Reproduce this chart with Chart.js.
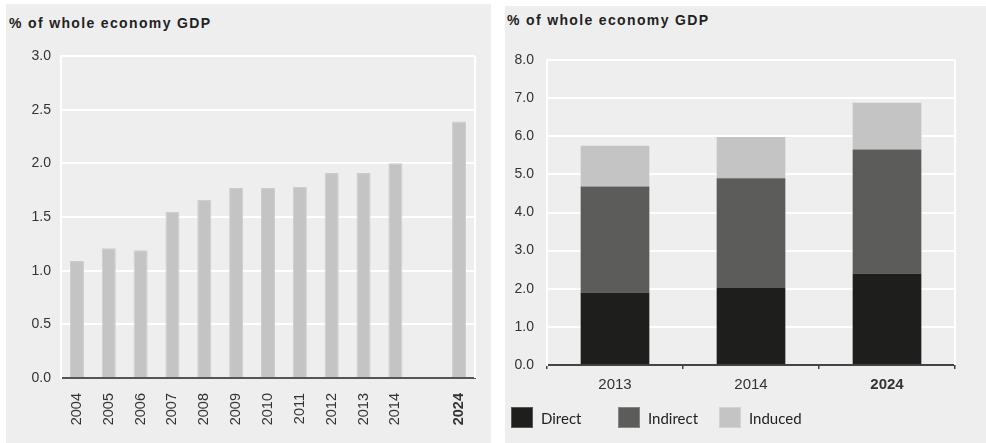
<!DOCTYPE html>
<html>
<head>
<meta charset="utf-8">
<script src="https://cdn.jsdelivr.net/npm/chart.js@4.4.1/dist/chart.umd.min.js"></script>
<style>
  html, body { margin: 0; padding: 0; background: #ffffff; }
  body { width: 986px; height: 443px; position: relative; overflow: hidden; }
  .panel { position: absolute; background: #eeeeee; }
  .title { position: absolute; font-family: "Liberation Sans", Arial, sans-serif; font-weight: bold; font-size: 14px; color: #222; letter-spacing: 1.35px; white-space: nowrap; line-height: 16px; }
  canvas { position: absolute; }
  .lg-item { position: absolute; top: 407px; height: 21px; display: flex; align-items: center; font-family: Lato, "Open Sans", sans-serif; font-size: 15px; color: #222; white-space: nowrap; }
  .lg-box { width: 22px; height: 21px; margin-right: 8px; box-sizing: border-box; border: 1px solid rgba(255,255,255,0.25); }
</style>
</head>
<body>
<div class="panel" style="left:6px;top:4px;width:485px;height:439px;"></div>
<div class="panel" style="left:505px;top:6px;width:481px;height:437px;"></div>
<div class="title" style="left:9px;top:15px;">% of whole economy GDP</div>
<div class="title" style="left:507px;top:12px;">% of whole economy GDP</div>
<div style="position:absolute;left:6px;top:4px;width:485px;height:439px;"><canvas id="c1"></canvas></div>
<div style="position:absolute;left:505px;top:6px;width:481px;height:437px;"><canvas id="c2"></canvas></div>
<div id="legend2"></div>
<script>
// ---- Data: left chart ----
const yearsLeft = ['2004','2005','2006','2007','2008','2009','2010','2011','2012','2013','2014','','2024'];
const gdpShare = [1.09, 1.21, 1.19, 1.55, 1.66, 1.77, 1.77, 1.78, 1.91, 1.91, 2.00, null, 2.39];
const leftTicks = [0.0, 0.5, 1.0, 1.5, 2.0, 2.5, 3.0];

// ---- Data: right chart ----
const yearsRight = ['2013', '2014', '2024'];
const seriesNames = ['Direct', 'Indirect', 'Induced'];
const directVals = [1.90, 2.02, 2.40];
const indirectVals = [2.78, 2.88, 3.25];
const inducedVals = [1.07, 1.08, 1.23];
const rightTicks = [0, 1, 2, 3, 4, 5, 6, 7, 8];

// layout-only constants
const LEGEND_LEFT = [511, 618, 719];
const SERIES_COLORS = ['#1e1e1c', '#5c5c5a', '#c4c4c4'];

const TICK_FONT = 'Liberation Sans, Arial, sans-serif';
const boldIf2024 = (size) => (ctx) => ({ family: TICK_FONT, size: size, weight: (ctx.tick && ctx.tick.label === '2024') ? 'bold' : 'normal' });

const edgePlugin = {
  id: 'edges',
  beforeDatasetsDraw(chart) {
    const a = chart.chartArea, c = chart.ctx;
    c.save();
    c.strokeStyle = '#ffffff';
    c.lineWidth = 2;
    c.beginPath();
    c.moveTo(a.right, a.top);
    c.lineTo(a.right, a.bottom);
    c.stroke();
    c.restore();
  }
};

new Chart(document.getElementById('c1'), {
  type: 'bar',
  data: {
    labels: yearsLeft,
    datasets: [{
      data: gdpShare,
      backgroundColor: '#c4c4c4',
      borderColor: '#cccccc',
      borderWidth: 1,
      barPercentage: 0.44,
      categoryPercentage: 1.0
    }]
  },
  options: {
    responsive: true,
    maintainAspectRatio: false,
    animation: false,
    layout: { padding: { left: 0, right: 16, top: 52, bottom: 0 } },
    plugins: { legend: { display: false }, tooltip: { enabled: false } },
    scales: {
      x: {
        grid: { display: false },
        border: { display: true, color: '#555555', width: 2 },
        ticks: { minRotation: 90, maxRotation: 90, padding: 7, color: '#333', font: boldIf2024(14.5), autoSkip: false },
        afterFit(s) { s.height = 65; }
      },
      y: {
        min: 0, max: 3,
        afterBuildTicks(s) { s.ticks = leftTicks.map(v => ({ value: v })); },
        grid: { color: '#ffffff', lineWidth: 2, drawTicks: false },
        border: { display: true, color: '#ffffff', width: 2 },
        ticks: { padding: 10, color: '#333', font: { family: TICK_FONT, size: 14 }, callback: v => Number(v).toFixed(1) },
        afterFit(s) { s.width = 55; }
      }
    }
  },
  plugins: [edgePlugin]
});

const seriesData = [directVals, indirectVals, inducedVals];

const htmlLegend = {
  id: 'htmlLegend',
  afterUpdate(chart) {
    const host = document.getElementById('legend2');
    host.innerHTML = '';
    const items = chart.options.plugins.legend.labels.generateLabels(chart);
    items.forEach((it, i) => {
      const el = document.createElement('div');
      el.className = 'lg-item';
      el.style.left = LEGEND_LEFT[i] + 'px';
      const box = document.createElement('span');
      box.className = 'lg-box';
      box.style.background = it.fillStyle;
      const txt = document.createElement('span');
      txt.textContent = it.text;
      el.appendChild(box);
      el.appendChild(txt);
      host.appendChild(el);
    });
  }
};

new Chart(document.getElementById('c2'), {
  type: 'bar',
  data: {
    labels: yearsRight,
    datasets: seriesNames.map((name, i) => ({
      label: name,
      data: seriesData[i],
      backgroundColor: SERIES_COLORS[i],
      borderWidth: 0,
      barPercentage: 0.505,
      categoryPercentage: 1.0
    }))
  },
  options: {
    responsive: true,
    maintainAspectRatio: false,
    animation: false,
    layout: { padding: { left: 0, right: 31, top: 54, bottom: 0 } },
    plugins: {
      tooltip: { enabled: false },
      legend: { display: false }
    },
    scales: {
      x: {
        stacked: true,
        grid: { drawOnChartArea: false, drawTicks: true, tickLength: 4, tickColor: '#444444', lineWidth: 1.5 },
        border: { display: true, color: '#444444', width: 2 },
        ticks: { padding: 7, color: '#333', font: boldIf2024(15), autoSkip: false, maxRotation: 0, minRotation: 0 },
        afterFit(s) { s.height = 78; }
      },
      y: {
        stacked: true,
        min: 0, max: 8,
        afterBuildTicks(s) { s.ticks = rightTicks.map(v => ({ value: v })); },
        grid: { color: '#ffffff', lineWidth: 2, drawTicks: false },
        border: { display: true, color: '#ffffff', width: 2 },
        ticks: { padding: 13, color: '#333', font: { family: TICK_FONT, size: 14 }, callback: v => Number(v).toFixed(1) },
        afterFit(s) { s.width = 42; }
      }
    }
  },
  plugins: [edgePlugin, htmlLegend]
});
</script>
</body>
</html>
